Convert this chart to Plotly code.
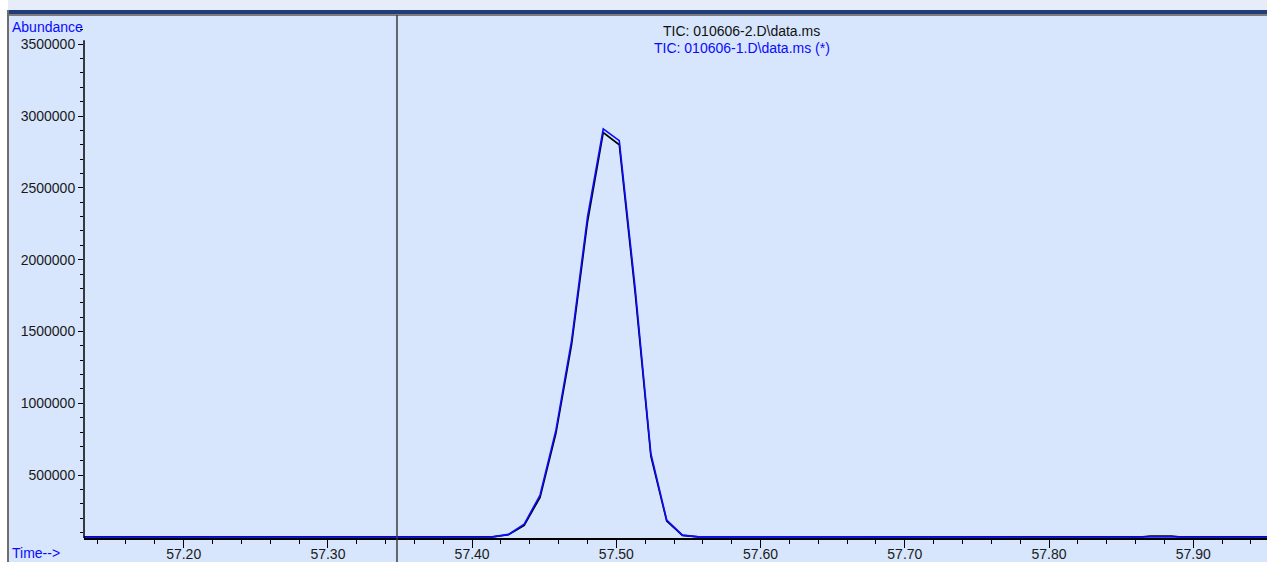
import plotly.graph_objects as go

# ---------------- data ----------------
time_blue = [57.1309, 57.20, 57.30, 57.40, 57.4142, 57.4252, 57.4361, 57.4471, 57.4581,
             57.4690, 57.4800, 57.4909, 57.5020, 57.5130, 57.5239, 57.5349, 57.5458,
             57.5568, 57.60, 57.70, 57.80, 57.90, 57.9511]
abund_blue = [69000, 69000, 69000, 69000, 70000, 87000, 159000, 361000, 813000,
              1440000, 2298000, 2910000, 2828000, 1805000, 650000, 187000, 82000,
              70000, 69000, 69000, 69000, 69000, 69000]

time_black = [57.1309, 57.20, 57.30, 57.40, 57.4142, 57.4252, 57.4361, 57.4471, 57.4581,
              57.4690, 57.4800, 57.4909, 57.5020, 57.5130, 57.5239, 57.5349, 57.5458,
              57.5568, 57.60, 57.70, 57.80, 57.865, 57.870, 57.885, 57.890, 57.9511]
abund_black = [70000, 70000, 70000, 70000, 70000, 85000, 150000, 345000, 790000,
               1410000, 2262000, 2885000, 2800000, 1770000, 632000, 180000, 80000,
               70000, 70000, 70000, 70000, 70000, 76000, 76000, 70000, 70000]

x_ticks = [57.20, 57.30, 57.40, 57.50, 57.60, 57.70, 57.80, 57.90]
y_ticks = [500000, 1000000, 1500000, 2000000, 2500000, 3000000, 3500000]

title_black = "TIC: 010606-2.D\\data.ms"
title_blue = "TIC: 010606-1.D\\data.ms (*)"
cursor_time = 57.3479

# ---------------- geometry helpers ----------------
W, H = 1267, 562
ML, MR, MT, MB = 84, 0, 17, 24
PW, PH = W - ML - MR, H - MT - MB


def px_x(px):
    return (px - ML) / PW


def px_y(py):
    return (H - MB - py) / PH


BG = "#d7e6fc"
BLUE = "#0a0aff"
FONT = "Liberation Sans"

fig = go.Figure()
fig.add_trace(go.Scatter(x=time_black, y=abund_black, mode="lines",
                         line=dict(color="#000000", width=1.6), name=title_black,
                         hoverinfo="x+y"))
fig.add_trace(go.Scatter(x=time_blue, y=abund_blue, mode="lines",
                         line=dict(color=BLUE, width=1.6), name=title_blue,
                         hoverinfo="x+y"))

shapes = [
    # window frame background
    dict(type="rect", xref="paper", yref="paper", x0=px_x(8), x1=px_x(W + 2),
         y0=px_y(H + 2), y1=px_y(15), fillcolor=BG, line=dict(width=0), layer="below"),
    # top strip
    dict(type="rect", xref="paper", yref="paper", x0=px_x(8), x1=px_x(W + 2),
         y0=px_y(10), y1=px_y(-2), fillcolor="#e6edf8", line=dict(width=0), layer="below"),
    dict(type="rect", xref="paper", yref="paper", x0=px_x(8), x1=px_x(W + 2),
         y0=px_y(14), y1=px_y(10), fillcolor="#1f3c7c", line=dict(width=0), layer="below"),
    dict(type="rect", xref="paper", yref="paper", x0=px_x(8), x1=px_x(W + 2),
         y0=px_y(16), y1=px_y(14), fillcolor="#7c7c7c", line=dict(width=0), layer="below"),
    # left border
    dict(type="rect", xref="paper", yref="paper", x0=px_x(7), x1=px_x(9),
         y0=px_y(H + 2), y1=px_y(10), fillcolor="#6e6e6e", line=dict(width=0), layer="below"),
    # y axis line (from just above top tick down to bottom)
    dict(type="line", xref="paper", yref="y", x0=0, x1=0, y0=62000, y1=3528000,
         line=dict(color="#000000", width=1.5)),
    # cursor line
    dict(type="line", xref="x", yref="paper", x0=cursor_time, x1=cursor_time,
         y0=px_y(H + 2), y1=px_y(15), line=dict(color="#3c3c3c", width=1.5)),
]

annotations = [
    dict(text="Abundance", xref="paper", yref="paper", x=px_x(10), y=px_y(27),
         xanchor="left", yanchor="middle", showarrow=False,
         font=dict(family=FONT, size=14, color=BLUE)),
    dict(text="Time-->", xref="paper", yref="paper", x=px_x(10), y=px_y(553),
         xanchor="left", yanchor="middle", showarrow=False,
         font=dict(family=FONT, size=14, color=BLUE)),
    dict(text=title_black, xref="paper", yref="paper", x=px_x(741), y=px_y(31),
         xanchor="center", yanchor="middle", showarrow=False,
         font=dict(family=FONT, size=14, color="#111111")),
    dict(text=title_blue, xref="paper", yref="paper", x=px_x(742), y=px_y(48),
         xanchor="center", yanchor="middle", showarrow=False,
         font=dict(family=FONT, size=14, color=BLUE)),
]

fig.update_layout(
    width=W, height=H,
    margin=dict(l=ML, r=MR, t=MT, b=MB, pad=0, autoexpand=False),
    paper_bgcolor="#ffffff",
    plot_bgcolor=BG,
    showlegend=False,
    shapes=shapes,
    annotations=annotations,
    font=dict(family=FONT, size=14, color="#1a1a1a"),
    xaxis=dict(range=[57.1309, 57.9511], tickvals=x_ticks, tickformat=".2f",
               automargin=False, ticklabelstandoff=-6,
               ticks="outside", ticklen=8, tickwidth=1.2, tickcolor="#000000",
               showline=True, linecolor="#000000", linewidth=1.5,
               showgrid=False, zeroline=False,
               minor=dict(tick0=57.20, dtick=0.02, ticks="outside", ticklen=4,
                          tickcolor="#000000", tickwidth=1.2, showgrid=False),
               tickfont=dict(family=FONT, size=14, color="#1a1a1a")),
    yaxis=dict(range=[62000, 3689400], tickvals=y_ticks, tickformat="d",
               automargin=False,
               ticks="outside", ticklen=5, tickwidth=1.2, tickcolor="#000000",
               showline=False, showgrid=False, zeroline=False,
               minor=dict(tick0=0, dtick=100000, ticks="outside", ticklen=3,
                          tickcolor="#000000", tickwidth=1, showgrid=False),
               tickfont=dict(family=FONT, size=14, color="#1a1a1a")),
)

fig.write_html("out.html",
               config={"displayModeBar": False},
               post_script="document.body.style.margin='0';"
                           "document.body.style.padding='0';"
                           "document.body.style.overflow='hidden';")
